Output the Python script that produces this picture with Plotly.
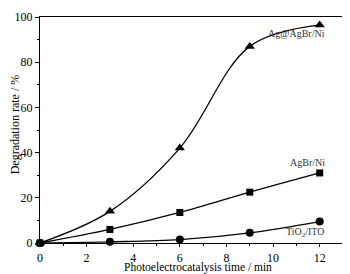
import plotly.graph_objects as go

time_min = [0, 3, 6, 9, 12]
ag_agbr_ni = [0, 14, 42, 87, 96.5]
agbr_ni = [0, 6, 13.5, 22.5, 31]
tio2_ito = [0, 0.5, 1.5, 4.5, 9.5]

series = [
    ("Ag@AgBr/Ni", ag_agbr_ni, "triangle-up", 9),
    ("AgBr/Ni", agbr_ni, "square", 7),
    ("TiO<sub>2</sub>/ITO", tio2_ito, "circle", 8),
]

fig = go.Figure()
for name, ys, sym, sz in series:
    fig.add_trace(go.Scatter(
        x=time_min, y=ys, mode="lines+markers", name=name,
        line=dict(color="black", width=1.3, shape="spline", smoothing=1.0),
        marker=dict(symbol=sym, size=sz, color="black"),
        showlegend=False, cliponaxis=False,
    ))

font_serif = "Liberation Serif"

annotations = [
    dict(x=12.3, y=92.5, text="Ag@AgBr/Ni", xanchor="right", yanchor="middle"),
    dict(x=12.3, y=35.5, text="AgBr/Ni", xanchor="right", yanchor="middle"),
    dict(x=12.3, y=4.8, text="TiO<sub>2</sub>/ITO", xanchor="right", yanchor="middle"),
]
for a in annotations:
    a.update(xref="x", yref="y", showarrow=False,
             font=dict(family=font_serif, size=10, color="#333"))

annotations.append(dict(
    text="Photoelectrocatalysis time / min", xref="paper", yref="paper",
    x=0.521, y=0, yshift=-24, xanchor="center", yanchor="middle",
    showarrow=False, font=dict(family=font_serif, size=11.5, color="black")))
annotations.append(dict(
    text="Degradation rate / %", xref="paper", yref="paper",
    x=0, y=0.525, xshift=-25, xanchor="center", yanchor="middle", textangle=-90,
    showarrow=False, font=dict(family=font_serif, size=12, color="black")))

fig.update_layout(
    width=342, height=266,
    margin=dict(l=32, r=7, t=9, b=31),
    paper_bgcolor="white", plot_bgcolor="white",
    font=dict(family=font_serif, size=12, color="black"),
    annotations=annotations,
    xaxis=dict(
        range=[0, 13], tickvals=[0, 2, 4, 6, 8, 10, 12],
        ticks="outside", ticklen=3, tickwidth=1, tickcolor="black",
        minor=dict(dtick=1, tick0=0, ticks="outside", ticklen=2, tickcolor="black"),
        showgrid=False, zeroline=False, automargin=False,
        showline=True, linecolor="black", linewidth=1.3, mirror=True,
        tickfont=dict(family=font_serif, size=12),
    ),
    yaxis=dict(
        range=[0, 100], tickvals=[0, 20, 40, 60, 80, 100],
        ticks="outside", ticklen=4, tickwidth=1, tickcolor="black",
        minor=dict(dtick=10, tick0=0, ticks="outside", ticklen=2, tickcolor="black"),
        showgrid=False, zeroline=False, automargin=False,
        showline=True, linecolor="black", linewidth=1.3, mirror=True,
        tickfont=dict(family=font_serif, size=12),
    ),
)

fig.write_html("out.html")
